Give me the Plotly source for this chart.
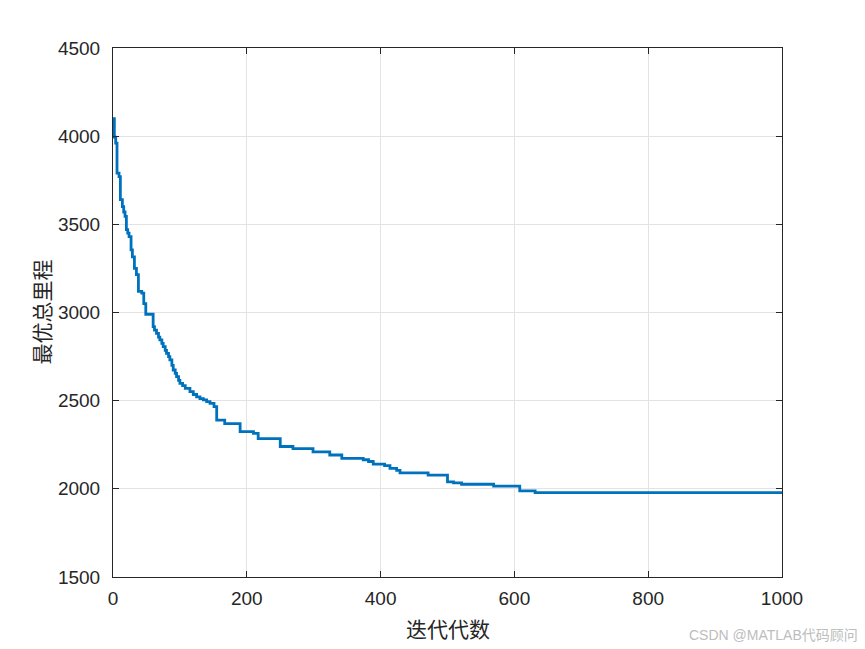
import plotly.graph_objects as go

iters = [0, 2, 4, 6, 9, 11, 14, 16, 18, 20, 22, 24, 27, 29, 32, 35, 38, 43, 46, 49, 60, 62, 65,
         68, 70, 73, 75, 78, 80, 83, 85, 88, 90, 93, 95, 98, 100, 104, 108, 115, 120, 125, 130,
         135, 140, 145, 151, 155, 167, 190, 210, 217, 250, 269, 299, 324, 342, 374, 382, 389,
         406, 414, 424, 429, 471, 500, 509, 521, 569, 608, 631, 1000]
values = [4100, 3995, 3960, 3790, 3770, 3640, 3600, 3570, 3545, 3470, 3450, 3430, 3355, 3315,
          3250, 3215, 3120, 3110, 3050, 2990, 2920, 2900, 2882, 2860, 2845, 2825, 2806, 2785,
          2768, 2750, 2731, 2700, 2674, 2655, 2636, 2615, 2598, 2585, 2570, 2551, 2535, 2522,
          2512, 2504, 2495, 2485, 2466, 2390, 2370, 2324, 2315, 2285, 2240, 2228, 2210, 2192,
          2173, 2165, 2155, 2140, 2132, 2116, 2105, 2090, 2078, 2040, 2034, 2026, 2015, 1988,
          1978, 1978]

x_ticks = [0, 200, 400, 600, 800, 1000]
y_ticks = [1500, 2000, 2500, 3000, 3500, 4000, 4500]
x_title = "迭代代数"
y_title = "最优总里程"
watermark = "CSDN @MATLAB代码顾问"

fig = go.Figure()
fig.add_trace(go.Scatter(x=iters, y=values, mode="lines", line_shape="hv",
                         line=dict(color="#0072BD", width=2.8), showlegend=False))

axis_common = dict(showline=True, linecolor="#262626", linewidth=1, mirror="ticks",
                   ticks="inside", ticklen=6, tickcolor="#262626",
                   showgrid=True, gridcolor="#E3E3E3", gridwidth=1, zeroline=False,
                   automargin=False,
                   tickfont=dict(family="Liberation Sans, Arial", size=19, color="#262626"))

fig.update_xaxes(range=[0, 1000], tickvals=x_ticks, ticklabelstandoff=4, **axis_common)
fig.update_yaxes(range=[1500, 4500], tickvals=y_ticks, ticklabelstandoff=8, **axis_common)

cjk = "Noto Sans CJK SC"
fig.add_annotation(text=x_title, xref="paper", yref="paper", x=0.5, y=-0.0964,
                   xanchor="center", yanchor="middle", showarrow=False,
                   font=dict(family=cjk, size=21, color="#262626"))
fig.add_annotation(text=y_title, xref="paper", yref="paper", x=-0.1091, y=0.5,
                   xanchor="center", yanchor="middle", showarrow=False, textangle=-90,
                   font=dict(family=cjk, size=21, color="#262626"))
fig.add_annotation(text=watermark, xref="paper", yref="paper", x=1.1166, y=-0.1096,
                   xanchor="right", yanchor="middle", showarrow=False,
                   font=dict(family="Liberation Sans, " + cjk, size=14, color="#BDBDBD"))

fig.update_layout(width=857, height=641, margin=dict(l=105, r=83, t=40, b=72),
                  paper_bgcolor="white", plot_bgcolor="white")

fig.write_html("out.html")
